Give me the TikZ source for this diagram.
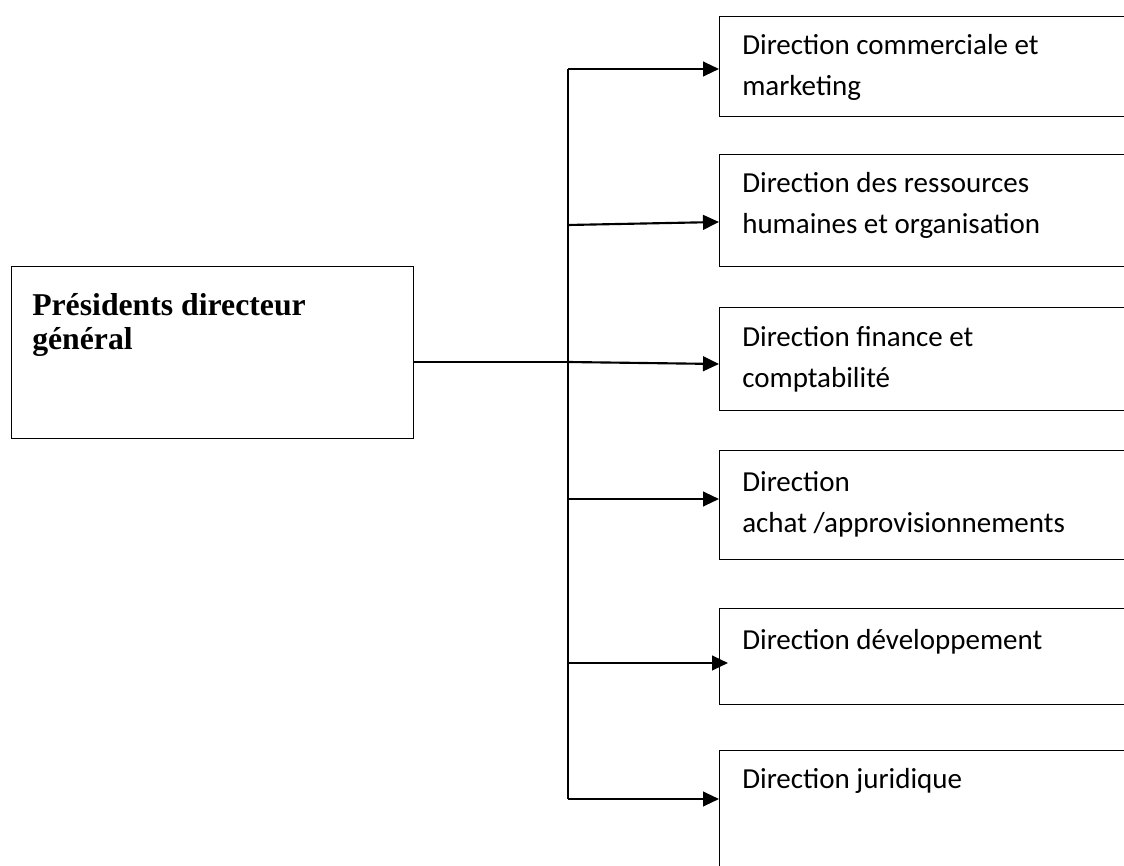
\documentclass[tikz,border=0pt]{standalone}
\usepackage{fontspec}
\setmainfont{Carlito}
\newfontfamily\serifbold{Liberation Serif}
\usetikzlibrary{arrows.meta}
\begin{document}
\begin{tikzpicture}[x=0.75pt,y=-0.75pt,
  box/.style={draw,line width=1.1pt,rectangle,inner sep=0pt,anchor=north west},
  lbl/.style={anchor=base west,inner sep=0pt,align=left,font=\fontsize{21.75pt}{30.75pt}\selectfont},
  ttl/.style={anchor=base west,inner sep=0pt,align=left,font=\serifbold\bfseries\fontsize{23.8pt}{24.75pt}\selectfont},
  bus/.style={line width=1.1pt},
  conn/.style={line width=1.6pt,-{Triangle[length=12pt,width=11pt]}},
  feed/.style={line width=0.9pt}]
\useasboundingbox (0,0) rectangle (1124,866);
\clip (0,0) rectangle (1124,866);
% boxes
\node[box,minimum width=402*0.75pt,minimum height=172*0.75pt] (pdg) at (11,266) {};
\node[box,minimum width=421*0.75pt,minimum height=100*0.75pt] (d1) at (719,16) {};
\node[box,minimum width=421*0.75pt,minimum height=112*0.75pt] (d2) at (719,154) {};
\node[box,minimum width=421*0.75pt,minimum height=103*0.75pt] (d3) at (719,307) {};
\node[box,minimum width=421*0.75pt,minimum height=109*0.75pt] (d4) at (719,450) {};
\node[box,minimum width=421*0.75pt,minimum height=96*0.75pt] (d5) at (719,608) {};
\node[box,minimum width=421*0.75pt,minimum height=150*0.75pt] (d6) at (719,750) {};
% texts (base anchor = baseline of the last line)
\node[ttl] (tp) at (32,349) {Présidents directeur\\général};
\node[lbl] (t1) at (742,96) {Direction commerciale et\\marketing};
\node[lbl] (t2) at (742,234) {Direction des ressources\\humaines et organisation};
\node[lbl] (t3) at (742,387) {Direction finance et\\comptabilité};
\node[lbl] (t4) at (742,532) {Direction\\achat /approvisionnements};
\node[lbl] (t5) at (742,649) {Direction développement};
\node[lbl] (t6) at (742,788) {Direction juridique};
% bus points
\coordinate (b1) at (568,69);
\coordinate (b2) at (568,225);
\coordinate (b3) at (568,362);
\coordinate (b4) at (568,499);
\coordinate (b5) at (568,663);
\coordinate (b6) at (568,799);
\coordinate (p) at (pdg.east |- b3);
\coordinate (e2) at (719,222);
\coordinate (e3) at (719,364);
\coordinate (e5) at (728,663);
% connectors
\draw[bus] (b1) -- (b6);
\draw[feed] (p) -- (b3);
\draw[conn] (b1) -- (d1.west |- b1);
\draw[conn] (b2) -- (e2);
\draw[conn] (b3) -- (e3);
\draw[conn] (b4) -- (d4.west |- b4);
\draw[conn] (b5) -- (e5);
\draw[conn] (b6) -- (d6.west |- b6);
\end{tikzpicture}
\end{document}
